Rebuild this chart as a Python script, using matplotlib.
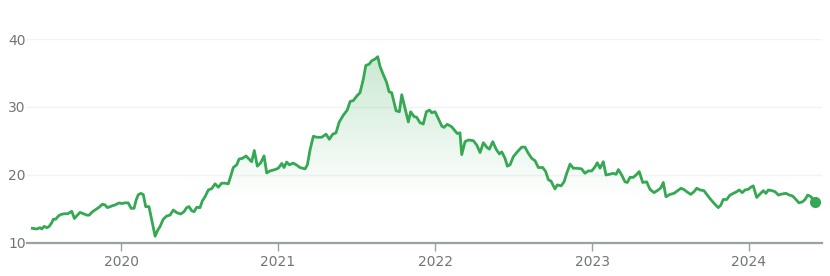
#!/usr/bin/env python3
"""
Price history line chart (finance style) with gradient fill under the line.
"""

import numpy as np
import matplotlib
matplotlib.use('Agg')
import matplotlib.pyplot as plt
from matplotlib.patches import Polygon

# Time in decimal years, price values
t_year = [
    2019.435, 2019.463, 2019.484, 2019.495, 2019.511, 2019.527, 2019.541, 2019.559,
    2019.569, 2019.584, 2019.601, 2019.618, 2019.639, 2019.661, 2019.686, 2019.703,
    2019.718, 2019.739, 2019.760, 2019.782, 2019.798, 2019.813, 2019.834, 2019.860,
    2019.881, 2019.898, 2019.913, 2019.936, 2019.962, 2019.989, 2020.004, 2020.025,
    2020.046, 2020.064, 2020.083, 2020.096, 2020.110, 2020.127, 2020.142, 2020.157,
    2020.178, 2020.217, 2020.234, 2020.248, 2020.269, 2020.291, 2020.312, 2020.333,
    2020.355, 2020.380, 2020.401, 2020.418, 2020.433, 2020.450, 2020.465, 2020.482,
    2020.503, 2020.518, 2020.535, 2020.556, 2020.578, 2020.599, 2020.620, 2020.641,
    2020.662, 2020.683, 2020.699, 2020.715, 2020.737, 2020.752, 2020.773, 2020.796,
    2020.817, 2020.832, 2020.849, 2020.868, 2020.890, 2020.911, 2020.928, 2020.949,
    2020.981, 2021.002, 2021.024, 2021.038, 2021.055, 2021.072, 2021.097, 2021.119,
    2021.140, 2021.172, 2021.187, 2021.204, 2021.225, 2021.246, 2021.278, 2021.306,
    2021.327, 2021.348, 2021.369, 2021.390, 2021.416, 2021.441, 2021.459, 2021.480,
    2021.501, 2021.522, 2021.543, 2021.559, 2021.580, 2021.597, 2021.618, 2021.635,
    2021.650, 2021.667, 2021.692, 2021.707, 2021.724, 2021.752, 2021.773, 2021.788,
    2021.809, 2021.830, 2021.845, 2021.866, 2021.883, 2021.904, 2021.925, 2021.945,
    2021.965, 2021.979, 2022.000, 2022.021, 2022.043, 2022.057, 2022.078, 2022.106,
    2022.127, 2022.142, 2022.159, 2022.170, 2022.191, 2022.212, 2022.244, 2022.266,
    2022.287, 2022.308, 2022.329, 2022.346, 2022.368, 2022.389, 2022.410, 2022.425,
    2022.446, 2022.461, 2022.478, 2022.499, 2022.524, 2022.552, 2022.573, 2022.594,
    2022.616, 2022.637, 2022.658, 2022.686, 2022.705, 2022.722, 2022.739, 2022.764,
    2022.779, 2022.803, 2022.822, 2022.839, 2022.860, 2022.881, 2022.903, 2022.934,
    2022.955, 2022.976, 2022.998, 2023.019, 2023.034, 2023.051, 2023.072, 2023.089,
    2023.110, 2023.136, 2023.153, 2023.168, 2023.189, 2023.210, 2023.225, 2023.242,
    2023.263, 2023.285, 2023.301, 2023.323, 2023.348, 2023.369, 2023.395, 2023.422,
    2023.438, 2023.454, 2023.471, 2023.497, 2023.522, 2023.546, 2023.567, 2023.586,
    2023.603, 2023.629, 2023.650, 2023.667, 2023.688, 2023.713, 2023.734, 2023.756,
    2023.783, 2023.804, 2023.820, 2023.836, 2023.858, 2023.879, 2023.900, 2023.922,
    2023.938, 2023.957, 2023.975, 2023.996, 2024.011, 2024.027, 2024.049, 2024.070,
    2024.091, 2024.108, 2024.123, 2024.145, 2024.166, 2024.187, 2024.208, 2024.236,
    2024.257, 2024.278, 2024.299, 2024.318, 2024.340, 2024.357, 2024.374, 2024.395,
    2024.420,
]
price = [
    12.16, 12.06, 12.25, 12.06, 12.45, 12.25, 12.40, 13.00,
    13.50, 13.50, 13.97, 14.20, 14.30, 14.30, 14.66, 13.60,
    14.00, 14.50, 14.30, 14.10, 14.10, 14.50, 14.85, 15.25,
    15.70, 15.60, 15.20, 15.40, 15.60, 15.90, 15.80, 15.90,
    15.90, 15.10, 15.10, 16.30, 17.10, 17.30, 17.10, 15.35,
    15.35, 11.00, 11.90, 12.40, 13.50, 13.97, 14.10, 14.85,
    14.46, 14.26, 14.60, 15.20, 15.35, 14.75, 14.60, 15.25,
    15.20, 16.20, 16.80, 17.80, 18.00, 18.70, 18.20, 18.80,
    18.80, 18.70, 19.85, 21.10, 21.50, 22.35, 22.45, 22.80,
    22.30, 21.95, 23.60, 21.30, 21.80, 22.80, 20.30, 20.60,
    20.80, 21.00, 21.70, 21.10, 21.90, 21.50, 21.75, 21.45,
    21.10, 20.90, 21.50, 23.70, 25.70, 25.55, 25.55, 26.00,
    25.25, 26.00, 26.20, 27.80, 28.80, 29.55, 30.80, 30.95,
    31.60, 32.10, 34.05, 36.10, 36.30, 36.80, 37.05, 37.40,
    35.95, 34.95, 33.60, 32.25, 32.10, 29.45, 29.30, 31.80,
    29.80, 27.80, 29.30, 28.60, 28.50, 27.70, 27.50, 29.30,
    29.55, 29.15, 29.30, 28.30, 27.20, 27.00, 27.45, 27.10,
    26.50, 26.10, 26.20, 23.00, 24.90, 25.15, 25.05, 24.40,
    23.30, 24.75, 24.10, 23.80, 24.90, 23.80, 23.10, 23.40,
    22.45, 21.30, 21.50, 22.70, 23.40, 24.10, 24.10, 23.20,
    22.45, 22.10, 21.10, 21.10, 20.50, 19.30, 19.10, 17.95,
    18.55, 18.40, 19.00, 20.25, 21.60, 21.00, 21.00, 20.90,
    20.25, 20.60, 20.60, 21.20, 21.80, 21.00, 21.95, 20.00,
    20.10, 20.25, 20.10, 20.80, 20.00, 19.00, 18.90, 19.65,
    19.65, 20.10, 20.50, 18.90, 19.00, 17.90, 17.40, 17.80,
    18.10, 18.90, 16.80, 17.15, 17.30, 17.70, 18.05, 17.85,
    17.55, 17.15, 17.55, 18.05, 17.80, 17.70, 17.05, 16.40,
    15.70, 15.20, 15.55, 16.40, 16.40, 17.05, 17.30, 17.55,
    17.80, 17.40, 17.80, 17.90, 18.20, 18.40, 16.70, 17.20,
    17.70, 17.30, 17.80, 17.70, 17.55, 17.05, 17.20, 17.30,
    17.05, 16.90, 16.40, 15.90, 16.05, 16.40, 17.05, 16.80,
    16.00,
]
year_ticks = [2020, 2021, 2022, 2023, 2024]
y_ticks = [10, 20, 30, 40]

GREEN = '#34a853'
LABEL_GRAY = '#70757a'

fig = plt.figure(figsize=(8.3, 2.76), dpi=100)
ax = fig.add_axes([27 / 830, 33 / 276, 795 / 830, 204 / 276])

x = np.array(t_year)
y = np.array(price)
x_lo, x_hi = 2019.401, 2024.465
y_lo, y_hi = 10, 40

# Gradient fill under the line, strongest near the peak, fading lower down
grad_rows = 256
yy = np.linspace(y_lo, y_hi, grad_rows)
alpha = np.clip((yy - 16.5) / (y.max() - 16.5), 0, 1) * 0.26
rgba = np.zeros((grad_rows, 1, 4))
rgba[..., 0] = 0x34 / 255
rgba[..., 1] = 0xa8 / 255
rgba[..., 2] = 0x53 / 255
rgba[..., 3] = alpha[:, None]
img = ax.imshow(rgba, extent=[x_lo, x_hi, y_lo, y_hi], origin='lower',
                aspect='auto', zorder=1, interpolation='bilinear')
verts = np.column_stack([np.r_[x[0], x, x[-1]], np.r_[y_lo, y, y_lo]])
clip_poly = Polygon(verts, closed=True, facecolor='none', edgecolor='none')
ax.add_patch(clip_poly)
img.set_clip_path(clip_poly)

ax.plot(x, y, color=GREEN, linewidth=2.0, zorder=3, solid_joinstyle='round')
ax.plot(x[-1], y[-1], 'o', color=GREEN, markersize=7, zorder=4, clip_on=False)

ax.set_xlim(x_lo, x_hi)
ax.set_ylim(y_lo, y_hi)

# Formatting
ax.set_yticks(y_ticks)
ax.set_yticklabels([str(v) for v in y_ticks])
ax.set_xticks(year_ticks)
ax.set_xticklabels([str(v) for v in year_ticks])
for v in y_ticks[1:]:
    ax.axhline(v, color='#f1f3f4', linewidth=1.0, zorder=0)

for side in ['top', 'right', 'left']:
    ax.spines[side].set_visible(False)
ax.spines['bottom'].set_color('#9aa0a6')
ax.spines['bottom'].set_linewidth(1.6)
ax.spines['bottom'].set_zorder(5)

ax.tick_params(axis='y', length=0, pad=1, labelsize=10, labelcolor=LABEL_GRAY)
ax.tick_params(axis='x', length=6, width=1, color='#9aa0a6', pad=3,
               labelsize=10, labelcolor=LABEL_GRAY)

fig.savefig('out.png', dpi=100, facecolor='white')
